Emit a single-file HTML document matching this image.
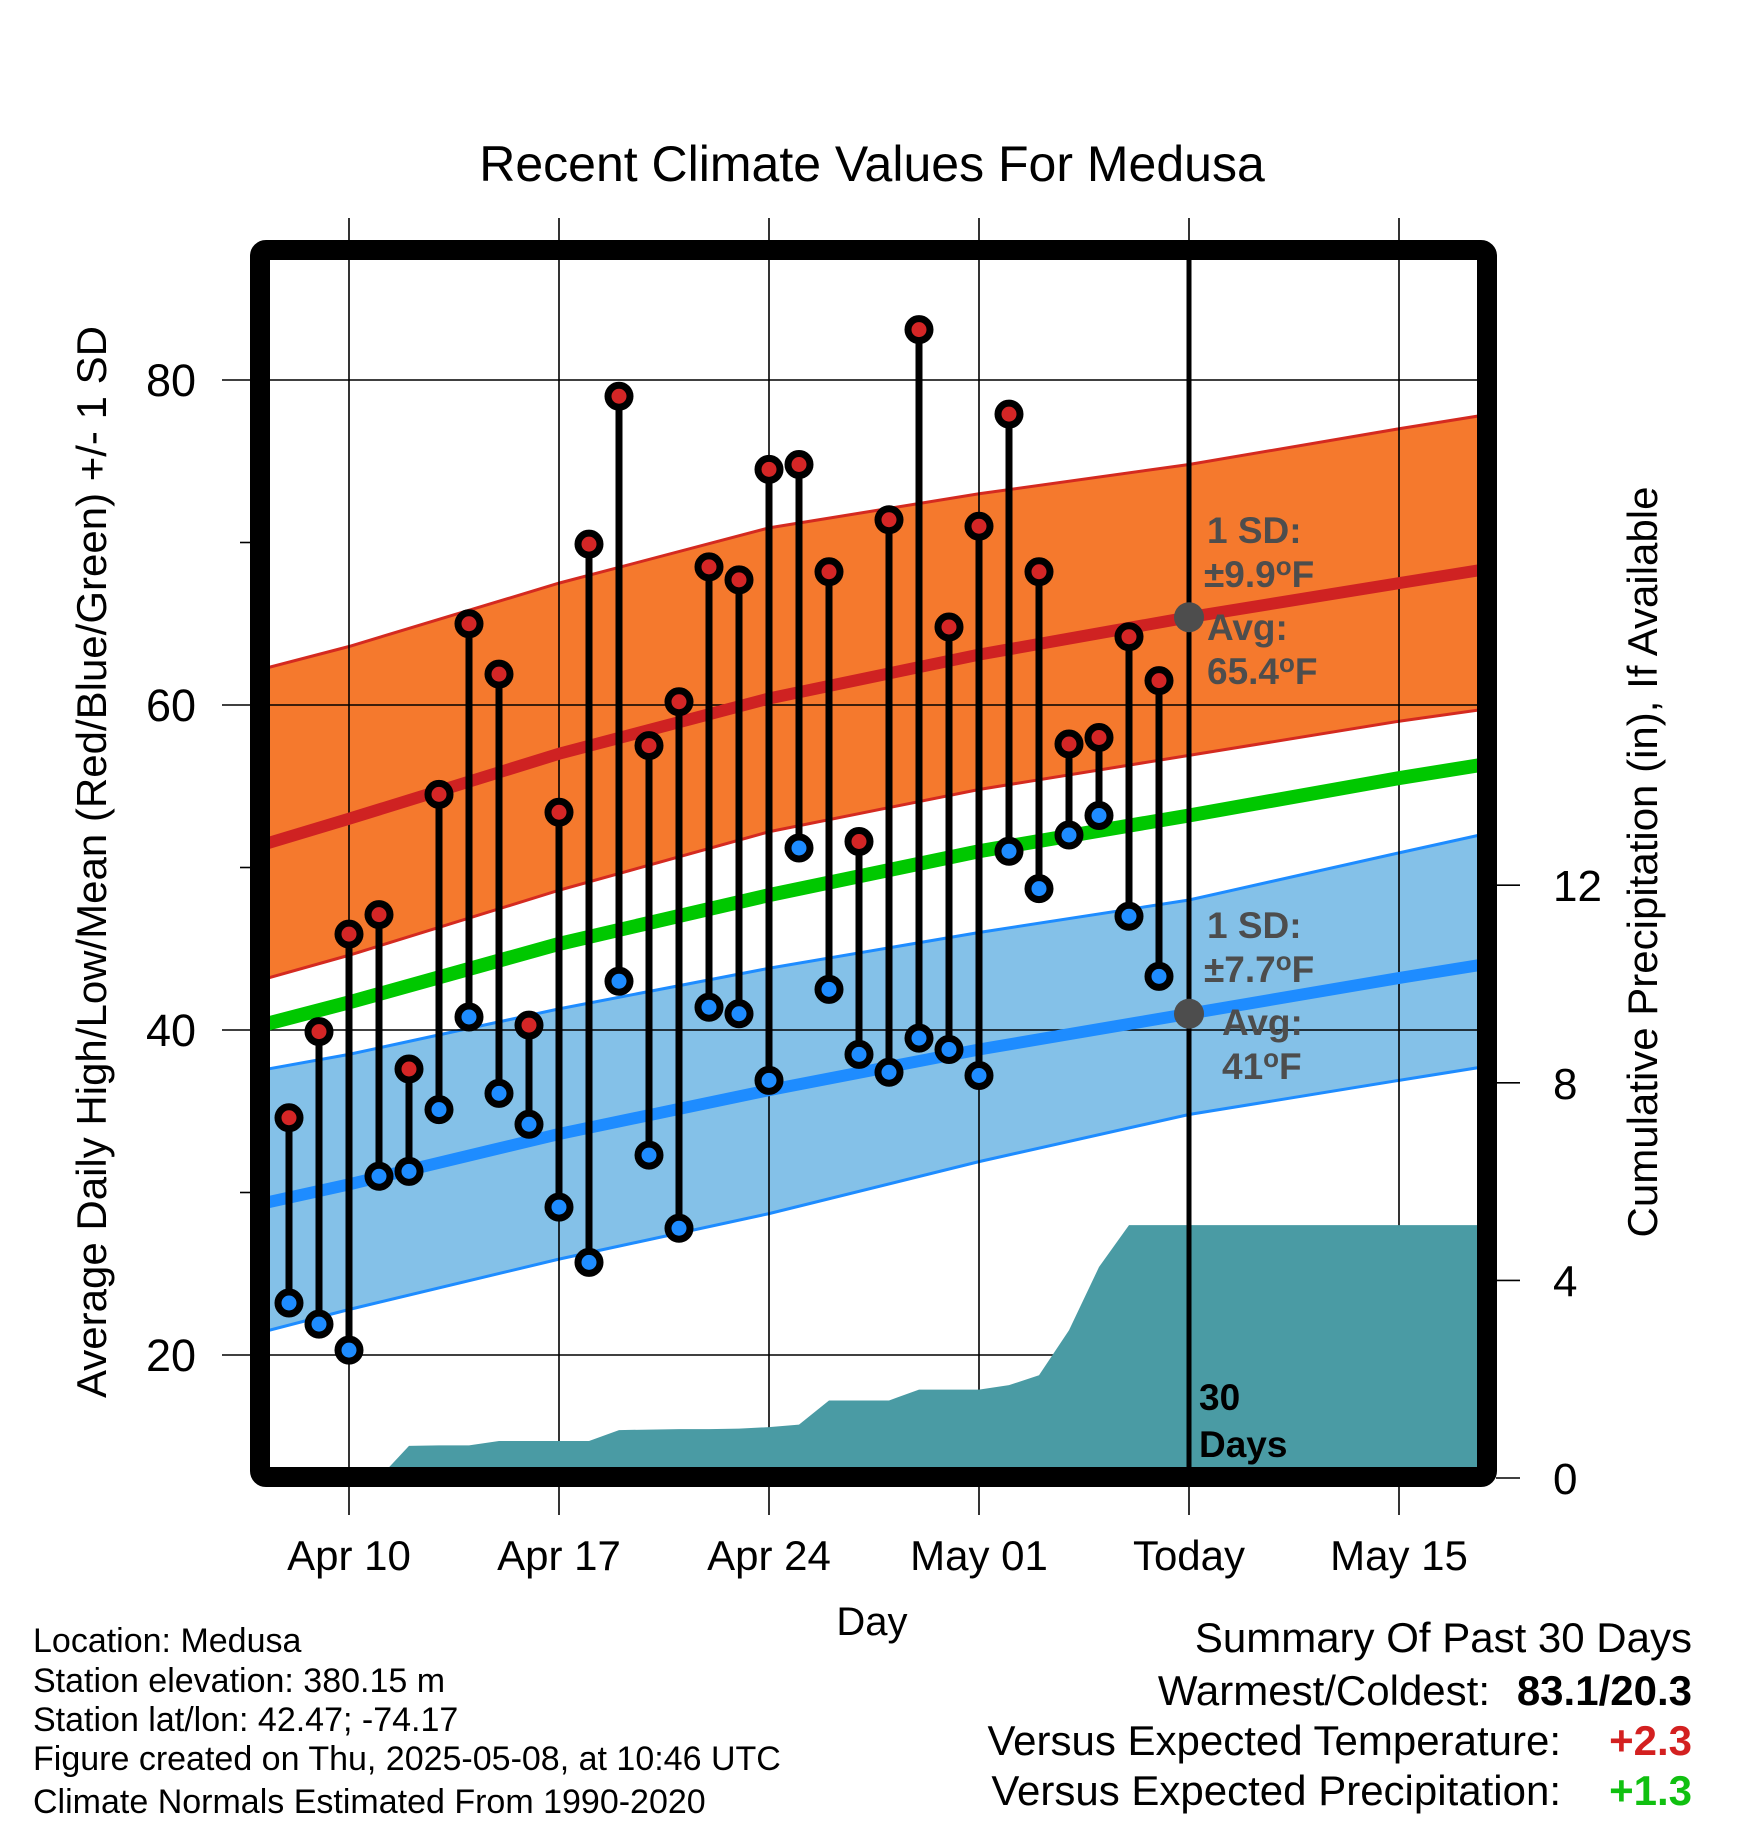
<!DOCTYPE html>
<html><head><meta charset="utf-8"><style>
html,body{margin:0;padding:0;background:#fff}
svg{display:block}
text{font-family:"Liberation Sans",Arial,sans-serif}
</style></head><body>
<svg id="chart" width="1748" height="1828" viewBox="0 0 1748 1828" xmlns="http://www.w3.org/2000/svg">
<defs><clipPath id="plotclip"><rect x="270" y="260" width="1208" height="1208"/></clipPath></defs>
<g id="bands" clip-path="url(#plotclip)"></g>
<g id="grid"></g>
<g id="precip" clip-path="url(#plotclip)"></g>
<g id="normlines" clip-path="url(#plotclip)"></g>
<line x1="1189" y1="260" x2="1189" y2="1468" stroke="#000" stroke-width="5"/>
<g id="marks"></g>
<g font-weight="bold" font-size="37" fill="#4d4d4d">
<text x="1207" y="543">1 SD:</text>
<text x="1204" y="587">±9.9<tspan dy="-12" font-size="26">o</tspan><tspan dy="12">F</tspan></text>
<text x="1207" y="640">Avg:</text>
<text x="1207" y="684">65.4<tspan dy="-12" font-size="26">o</tspan><tspan dy="12">F</tspan></text>
<text x="1207" y="938">1 SD:</text>
<text x="1204" y="982">±7.7<tspan dy="-12" font-size="26">o</tspan><tspan dy="12">F</tspan></text>
<text x="1222" y="1035">Avg:</text>
<text x="1222" y="1079">41<tspan dy="-12" font-size="26">o</tspan><tspan dy="12">F</tspan></text>
</g>
<g font-weight="bold" font-size="37" fill="#000">
<text x="1199" y="1410">30</text><text x="1199" y="1457">Days</text>
</g>
<rect x="260" y="250" width="1227" height="1227" rx="6" fill="none" stroke="#000" stroke-width="20"/>
<g id="axes"></g>
<text x="872" y="181" text-anchor="middle" font-size="50">Recent Climate Values For Medusa</text>
<text transform="translate(106,862) rotate(-90)" text-anchor="middle" font-size="42">Average Daily High/Low/Mean (Red/Blue/Green) +/- 1 SD</text>
<text transform="translate(1657,862) rotate(-90)" text-anchor="middle" font-size="42">Cumulative Precipitation (in), If Available</text>
<text x="872" y="1635" text-anchor="middle" font-size="40">Day</text>
<g font-size="34">
<text x="33" y="1652">Location: Medusa</text>
<text x="33" y="1692">Station elevation: 380.15 m</text>
<text x="33" y="1731">Station lat/lon: 42.47; -74.17</text>
<text x="33" y="1770">Figure created on Thu, 2025-05-08, at 10:46 UTC</text>
<text x="33" y="1813">Climate Normals Estimated From 1990-2020</text>
</g>
<g font-size="42" text-anchor="end">
<text x="1692" y="1652">Summary Of Past 30 Days</text>
<text x="1490" y="1705">Warmest/Coldest:</text>
<text x="1692" y="1705" font-weight="bold">83.1/20.3</text>
<text x="1561" y="1755">Versus Expected Temperature:</text>
<text x="1692" y="1755" font-weight="bold" fill="#d32020">+2.3</text>
<text x="1561" y="1805">Versus Expected Precipitation:</text>
<text x="1692" y="1805" font-weight="bold" fill="#10c010">+1.3</text>
</g>
</svg>
<script>
// data: days relative to Apr 10 (0)
const days = [-2,-1,0,1,2,3,4,5,6,7,8,9,10,11,12,13,14,15,16,17,18,19,20,21,22,23,24,25,26,27];
const highs = [34.6,39.9,45.9,47.1,37.6,54.5,65.0,61.9,40.3,53.4,69.9,79.0,57.5,60.2,68.5,67.7,74.5,74.8,68.2,51.6,71.4,83.1,64.8,71.0,77.9,68.2,57.6,58.0,64.2,61.5];
const lows = [23.2,21.9,20.3,31.0,31.3,35.1,40.8,36.1,34.2,29.1,25.7,43.0,32.3,27.8,41.4,41.0,36.9,51.2,42.5,38.5,37.4,39.5,38.8,37.2,51.0,48.7,52.0,53.2,47.0,43.3];
const precipCum = [0,0,0,0,0.65,0.66,0.66,0.75,0.75,0.75,0.75,0.97,0.98,0.99,0.99,1.0,1.03,1.08,1.57,1.57,1.57,1.79,1.79,1.79,1.88,2.08,2.99,4.27,5.12,5.12];
const normDays = [-2.7,0,7,14,21,28,35,37.7];
const normHigh = [51.5,53.0,57.0,60.4,63.1,65.4,67.5,68.3];
const highUpper = [62.3,63.6,67.5,70.9,73.0,74.8,77.0,77.8];
const highLower = [43.2,44.6,48.6,52.2,54.8,56.9,59.0,59.7];
const normLow = [29.4,30.5,33.6,36.3,38.8,41.0,43.2,44.0];
const lowUpper = [37.6,38.5,41.3,43.8,46.0,48.0,50.9,52.0];
const lowLower = [21.5,22.8,25.9,28.7,31.9,34.8,36.9,37.7];
const normMean = [40.4,41.7,45.3,48.3,51.0,53.2,55.5,56.3];
const xTickDays = [0,7,14,21,28,35];
const xTickLabels = ["Apr 10","Apr 17","Apr 24","May 01","Today","May 15"];
const yTicks = [20,40,60,80];
const yMinor = [30,50,70];
const pTicks = [0,4,8,12];
const todayDay = 28, todayHigh = 65.4, todayLow = 41;

const NS="http://www.w3.org/2000/svg";
const X = d => 349 + 30*d;
const Y = t => 380 + (80 - t)*16.25;
const P = p => 1478 - p*49.4;
function mk(tag, attrs, parent){const e=document.createElementNS(NS,tag);for(const k in attrs)e.setAttribute(k,attrs[k]);parent.appendChild(e);return e;}
const bands=document.getElementById('bands'), grid=document.getElementById('grid'),
 precip=document.getElementById('precip'), nl=document.getElementById('normlines'),
 marks=document.getElementById('marks'), axes=document.getElementById('axes');
function pts(arr){return normDays.map((d,i)=>X(d)+','+Y(arr[i])).join(' ');}
function band(upper, lower, fill, edge, name){
  const up=normDays.map((d,i)=>X(d)+','+Y(upper[i]));
  const dn=normDays.map((d,i)=>X(d)+','+Y(lower[i])).reverse();
  const p=mk('polygon',{points:up.concat(dn).join(' '),fill:fill},bands);
  
  
  [upper,lower].forEach(a=>{const l=mk('polyline',{points:pts(a),fill:'none',stroke:edge,'stroke-width':3},bands);
    
    });
}
band(highUpper, highLower, '#f5792d', '#d42a20', 'high');
band(lowUpper, lowLower, '#84c1e8', '#1e8cff', 'low');
xTickDays.forEach((d,i)=>{
  const l=mk('line',{x1:X(d),y1:218,x2:X(d),y2:1515,stroke:'#000','stroke-width':1.6},grid);
  
  
  const t=mk('text',{x:X(d),y:1570,'text-anchor':'middle','font-size':42},axes);
  t.textContent=xTickLabels[i];
  
  
});
yTicks.forEach(v=>{
  const l=mk('line',{x1:222,y1:Y(v),x2:1478,y2:Y(v),stroke:'#000','stroke-width':1.6},grid);
  
  
  const t=mk('text',{x:196,y:Y(v)+16,'text-anchor':'end','font-size':45},axes);
  t.textContent=v;
  
  
});
yMinor.forEach(v=>{
  const l=mk('line',{x1:240,y1:Y(v),x2:252,y2:Y(v),stroke:'#000','stroke-width':1.6},axes);
  
  
});
pTicks.forEach(v=>{
  const l=mk('line',{x1:1496,y1:P(v),x2:1520,y2:P(v),stroke:'#000','stroke-width':1.6},axes);
  
  
  const t=mk('text',{x:1553,y:P(v)+16,'font-size':44},axes);
  t.textContent=v;
  
  
});
let pp=[X(days[0])+','+P(0)];
days.forEach((d,i)=>pp.push(X(d)+','+P(precipCum[i])));
pp.push('1480,'+P(precipCum[precipCum.length-1]));
pp.push('1480,'+P(0));
const pa=mk('polygon',{points:pp.join(' '),fill:'#4a9ba4'},precip);


[[normHigh,'#cf2222',12,'normal-high-line'],[normLow,'#1e8cff',12,'normal-low-line'],[normMean,'#00c800',14,'normal-mean-line']].forEach(a=>{
  const l=mk('polyline',{points:pts(a[0]),fill:'none',stroke:a[1],'stroke-width':a[2]},nl);
  
  
});
[todayHigh,todayLow].forEach(v=>{
  const c=mk('circle',{cx:X(todayDay),cy:Y(v),r:15,fill:'#4d4d4d'},marks);
  
  
});
days.forEach((d,i)=>{
  const s=mk('line',{x1:X(d),y1:Y(highs[i]),x2:X(d),y2:Y(lows[i]),stroke:'#000','stroke-width':7},marks);
  
  
  const h=mk('circle',{cx:X(d),cy:Y(highs[i]),r:11,fill:'#d42626',stroke:'#000','stroke-width':7},marks);
  
  
  const lo=mk('circle',{cx:X(d),cy:Y(lows[i]),r:11,fill:'#1e8cff',stroke:'#000','stroke-width':7},marks);
  
  
});
</script>
</body></html>
